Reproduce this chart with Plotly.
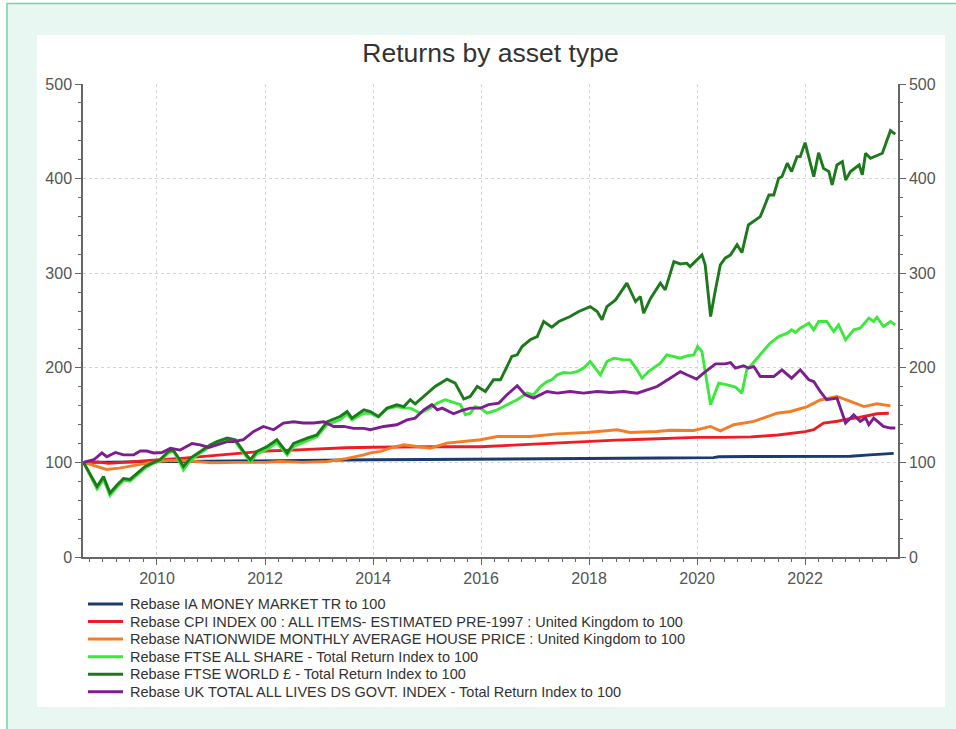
import plotly.graph_objects as go

# ---------------- data (decimal years, rebased to 100) ----------------
mm_x = [2008.64, 2009.5, 2010.0, 2011.0, 2012.0, 2013.0, 2014.0, 2015.0, 2015.9, 2016.0,
        2017.0, 2018.0, 2018.95, 2019.32, 2020.3, 2020.4, 2021.0, 2022.0, 2022.84, 2023.2, 2023.64]
mm_y = [100, 100.5, 101, 101.5, 102, 102.5, 102.8, 103, 103.2, 104,
        104.2, 104.4, 104.6, 104.6, 105, 106, 106.2, 106.3, 106.5, 108, 109.5]

cpi_x = [2008.64, 2008.9, 2009.1, 2009.4, 2009.7, 2010.0, 2010.5, 2011.0, 2011.5, 2012.0,
         2012.5, 2013.0, 2013.5, 2014.0, 2014.5, 2015.0, 2015.5, 2016.0, 2016.5, 2017.0,
         2017.5, 2018.0, 2018.5, 2019.0, 2019.5, 2020.0, 2020.5, 2021.0, 2021.5, 2022.0,
         2022.16, 2022.34, 2022.6, 2022.78, 2023.0, 2023.33, 2023.55]
cpi_y = [100, 100.5, 99, 100, 101, 102.5, 104.5, 107, 110, 112,
         113, 114.5, 115.5, 116, 116.5, 116.5, 116.5, 116.5, 118, 119.5,
         121, 122.5, 123.5, 124.5, 125.7, 126.5, 126.5, 127, 129, 132.5,
         134.5, 141.6, 143.5, 145.8, 147.5, 151.4, 152]

house_x = [2008.64, 2008.85, 2009.07, 2009.3, 2009.6, 2009.9, 2010.2, 2010.5, 2010.8, 2011.0,
           2011.5, 2012.0, 2012.28, 2012.7, 2013.15, 2013.5, 2013.83, 2013.95, 2014.14, 2014.32,
           2014.57, 2015.06, 2015.37, 2015.99, 2016.3, 2016.91, 2017.41, 2017.96, 2018.52, 2018.76,
           2019.26, 2019.5, 2019.94, 2020.25, 2020.43, 2020.68, 2021.05, 2021.48, 2021.73, 2022.04,
           2022.28, 2022.59, 2022.84, 2023.09, 2023.33, 2023.58]
house_y = [100, 96, 92.5, 94, 97, 100, 102, 102, 100.5, 99.6,
           100, 100, 101, 100, 101, 104, 108, 110, 111.6, 115,
           118.6, 115, 120.4, 124, 127.4, 127.4, 130.2, 131.6, 134.5, 131.6,
           132.7, 134, 133.7, 138, 133.4, 139.8, 143.3, 152, 153.8, 159,
           166, 169.7, 164.4, 159, 162, 159.8]

allshare_x = [2008.64, 2008.89, 2009.01, 2009.13, 2009.26, 2009.38, 2009.5, 2009.66, 2009.78, 2009.9,
              2010.06, 2010.21, 2010.3, 2010.4, 2010.49, 2010.62, 2010.8, 2010.99, 2011.11, 2011.3,
              2011.45, 2011.6, 2011.73, 2011.85, 2012.04, 2012.22, 2012.41, 2012.53, 2012.78, 2012.96,
              2013.15, 2013.39, 2013.52, 2013.61, 2013.83, 2013.95, 2014.1, 2014.26, 2014.44, 2014.57,
              2014.69, 2014.88, 2015.06, 2015.19, 2015.34, 2015.52, 2015.62, 2015.71, 2015.8, 2015.89,
              2015.99, 2016.11, 2016.3, 2016.48, 2016.67, 2016.85, 2016.97, 2017.1, 2017.22, 2017.31,
              2017.41, 2017.53, 2017.65, 2017.78, 2017.9, 2018.02, 2018.11, 2018.21, 2018.33, 2018.46,
              2018.64, 2018.76, 2018.89, 2018.98, 2019.1, 2019.26, 2019.32, 2019.44, 2019.57, 2019.69,
              2019.81, 2019.94, 2020.01, 2020.09, 2020.25, 2020.4, 2020.56, 2020.71, 2020.83, 2020.92,
              2021.01, 2021.17, 2021.35, 2021.51, 2021.67, 2021.75, 2021.82, 2021.91, 2022.07, 2022.16,
              2022.25, 2022.4, 2022.53, 2022.62, 2022.75, 2022.9, 2023.02, 2023.18, 2023.27, 2023.33,
              2023.45, 2023.58, 2023.67]
allshare_y = [100, 72, 82, 65, 74, 81, 80, 88, 94, 98,
              102, 110, 112, 103, 92, 102, 110, 117, 121, 124,
              122, 110, 101, 109, 114, 121, 108, 117, 123, 127,
              140, 145, 151, 145, 152, 152, 148, 157, 159, 157.4,
              157.4, 152, 157.4, 162.7, 166.2, 162.7, 161, 150.3, 152, 159,
              157.4, 152, 155.6, 161, 166.2, 173.2, 171.5, 180.2, 185.5, 187.3,
              192.6, 195, 194.4, 196, 199.7, 206.6, 199.7, 192.6, 206.6, 210.2,
              208.4, 208.4, 197.9, 189, 196, 203.2, 205, 213.7, 212, 210.2,
              212.6, 213.7, 222.5, 217.2, 160.9, 183.8, 182, 179.6, 173.2, 197.9,
              203.2, 213.7, 226, 233, 236.6, 240.1, 237.3, 241.9, 247.2, 240.1,
              248.9, 248.9, 238.3, 245.4, 229.6, 240.1, 241.9, 252.5, 248.9, 253.5,
              243.6, 248.9, 245.4]

world_x = [2008.64, 2008.89, 2009.01, 2009.13, 2009.26, 2009.38, 2009.5, 2009.66, 2009.78, 2009.9,
           2010.06, 2010.21, 2010.3, 2010.4, 2010.49, 2010.62, 2010.8, 2010.99, 2011.11, 2011.3,
           2011.45, 2011.6, 2011.73, 2011.85, 2012.04, 2012.22, 2012.41, 2012.53, 2012.78, 2012.96,
           2013.15, 2013.39, 2013.52, 2013.61, 2013.83, 2013.95, 2014.1, 2014.26, 2014.44, 2014.57,
           2014.69, 2014.78, 2014.94, 2015.15, 2015.37, 2015.52, 2015.68, 2015.8, 2015.93, 2016.08,
           2016.23, 2016.36, 2016.48, 2016.57, 2016.67, 2016.76, 2016.91, 2017.04, 2017.16, 2017.31,
           2017.44, 2017.65, 2017.81, 2018.02, 2018.15, 2018.24, 2018.33, 2018.49, 2018.7, 2018.86,
           2018.95, 2019.01, 2019.14, 2019.32, 2019.41, 2019.57, 2019.69, 2019.81, 2019.87, 2020.09,
           2020.15, 2020.25, 2020.34, 2020.43, 2020.52, 2020.62, 2020.74, 2020.83, 2020.95, 2021.08,
           2021.17, 2021.33, 2021.42, 2021.51, 2021.57, 2021.67, 2021.75, 2021.85, 2021.91, 2022.0,
           2022.16, 2022.25, 2022.34, 2022.44, 2022.5, 2022.59, 2022.69, 2022.75, 2022.84, 2023.0,
           2023.06, 2023.12, 2023.21, 2023.43, 2023.58, 2023.67]
world_y = [100, 74.6, 85, 67.6, 76, 83, 82, 90, 95.7, 99,
           103, 111.6, 113, 104.6, 95.7, 104.6, 111.6, 118.6, 122, 125.7,
           124, 111.6, 102.8, 111.6, 116.8, 124, 110, 120, 125.7, 129,
           143, 148.5, 153.8, 146.8, 155.6, 153.8, 148.5, 157.4, 160.9, 159,
           166.2, 162, 169.7, 180.2, 188, 183.8, 167, 169.7, 180.2, 175,
           187.3, 187.3, 201.3, 212, 213.7, 222.5, 229.6, 233, 248.9, 243,
           248.9, 254.2, 259.5, 264.7, 259.5, 250.7, 264.7, 271.8, 289.5, 270,
           275.3, 257.8, 273.6, 289.5, 282.4, 312.3, 309.8, 310.6, 307, 319.4,
           308.8, 254.2, 282.4, 308.8, 315.9, 319.4, 330, 321.8, 351, 356.3,
           359.8, 382.7, 382.7, 400.4, 402, 416.2, 407.4, 423.2, 423.2, 438,
           402, 427.4, 411, 407.4, 393.3, 414.4, 418, 398.6, 407.4, 414.4,
           404, 426.8, 421.5, 426.8, 450.7, 447]

gilts_x = [2008.64, 2008.83, 2008.98, 2009.07, 2009.23, 2009.38, 2009.57, 2009.69, 2009.81, 2009.94,
           2010.09, 2010.25, 2010.43, 2010.65, 2010.8, 2010.96, 2011.11, 2011.3, 2011.42, 2011.6,
           2011.79, 2011.97, 2012.16, 2012.34, 2012.53, 2012.71, 2012.9, 2013.09, 2013.27, 2013.46,
           2013.64, 2013.83, 2013.95, 2014.2, 2014.44, 2014.63, 2014.78, 2014.94, 2015.09, 2015.19,
           2015.28, 2015.49, 2015.65, 2015.8, 2015.99, 2016.14, 2016.33, 2016.48, 2016.67, 2016.82,
           2016.97, 2017.1, 2017.22, 2017.41, 2017.65, 2017.9, 2018.15, 2018.39, 2018.64, 2018.89,
           2019.07, 2019.26, 2019.5, 2019.69, 2019.81, 2019.99, 2020.12, 2020.34, 2020.52, 2020.62,
           2020.71, 2020.86, 2020.95, 2021.05, 2021.17, 2021.42, 2021.57, 2021.75, 2021.91, 2022.07,
           2022.16, 2022.28, 2022.4, 2022.59, 2022.75, 2022.9, 2023.02, 2023.12, 2023.18, 2023.27,
           2023.45, 2023.58, 2023.67]
gilts_y = [100, 102.8, 110, 106, 110.5, 108, 108, 112, 112, 110,
           110.5, 115, 113, 120, 118.6, 115.8, 118.6, 122, 122, 124,
           132.7, 138, 134.5, 141.6, 143, 141.6, 141.6, 143, 138, 138,
           136, 136, 134.5, 138, 139.8, 145, 146.8, 155.6, 161, 155.6,
           157.4, 151.4, 154.9, 157.4, 157.4, 161, 162.7, 171.5, 181, 171.5,
           168, 171.5, 175, 173.2, 175, 173.2, 175, 173.9, 175, 173.2,
           176.7, 180.2, 189, 196, 192.6, 188, 194.4, 204.2, 204.2, 205.6,
           199.7, 202.1, 199.7, 201.3, 190.8, 190.8, 197.9, 189, 197.9, 187.3,
           185.5, 175, 166.2, 168, 141.6, 150.3, 143.3, 146.8, 139.8, 146.8,
           138, 136.3, 136.3]

series_names = [
    "Rebase IA MONEY MARKET TR to 100",
    "Rebase CPI INDEX 00 : ALL ITEMS- ESTIMATED PRE-1997 : United Kingdom to 100",
    "Rebase NATIONWIDE MONTHLY AVERAGE HOUSE PRICE : United Kingdom to 100",
    "Rebase FTSE ALL SHARE - Total Return Index to 100",
    "Rebase FTSE WORLD \u00a3 - Total Return Index to 100",
    "Rebase UK TOTAL ALL LIVES DS GOVT. INDEX - Total Return Index to 100",
]
series_colors = ["#1b3a6e", "#ee1c24", "#f47c25", "#3be83b", "#1c7a1c", "#7d1e8e"]
title_text = "Returns by asset type"
x_ticks = [2010, 2012, 2014, 2016, 2018, 2020, 2022]
y_ticks = [0, 100, 200, 300, 400, 500]

# ---------------- figure ----------------
W, H = 956, 729
L, R, T, B = 83, 58, 84, 172
PW, PH = W - L - R, H - T - B


def px_x(p):
    return (p - L) / PW


def px_y(p):
    return (H - B - p) / PH


fig = go.Figure()
xs = [mm_x, cpi_x, house_x, allshare_x, world_x, gilts_x]
ys = [mm_y, cpi_y, house_y, allshare_y, world_y, gilts_y]
for name, col, x, y in zip(series_names, series_colors, xs, ys):
    fig.add_trace(go.Scatter(x=x, y=y, mode="lines", name=name, showlegend=False,
                             line=dict(color=col, width=2.9), hoverinfo="skip"))

# invisible trace to carry the right-hand axis
fig.add_trace(go.Scatter(x=mm_x, y=mm_y, yaxis="y2", mode="lines", showlegend=False,
                         line=dict(width=0, color="rgba(0,0,0,0)"), hoverinfo="skip"))

font_family = "Liberation Sans, Arial, sans-serif"
axis_col = "#666666"
grid_col = "#d4d4d4"

common_y = dict(range=[0, 500], tickvals=y_ticks, ticks="outside", ticklen=6, tickcolor=axis_col,
                showline=True, linecolor=axis_col, linewidth=1.5,
                tickfont=dict(size=16, color="#555555", family=font_family),
                minor=dict(dtick=20, ticks="outside", ticklen=3, tickcolor=axis_col, showgrid=False),
                zeroline=False, fixedrange=True)

shapes = [
    # mint frame with green border
    dict(type="rect", xref="paper", yref="paper", layer="below",
         x0=px_x(7), x1=px_x(980), y0=px_y(760), y1=px_y(3.5),
         fillcolor="#e8f7f2", line=dict(color="#6fd6a8", width=1.5)),
    # white chart card
    dict(type="rect", xref="paper", yref="paper", layer="below",
         x0=px_x(37), x1=px_x(945), y0=px_y(707), y1=px_y(35),
         fillcolor="#ffffff", line=dict(width=0)),
]
annotations = []

# legend drawn below the plot: one row per series
leg_top, leg_step = 604, 17.55
for i, (name, col) in enumerate(zip(series_names, series_colors)):
    yy = px_y(leg_top + i * leg_step)
    shapes.append(dict(type="line", xref="paper", yref="paper",
                       x0=px_x(88), x1=px_x(123), y0=yy, y1=yy,
                       line=dict(color=col, width=3)))
    annotations.append(dict(text=name, xref="paper", yref="paper", x=px_x(128), y=yy,
                            xanchor="left", yanchor="middle", showarrow=False,
                            font=dict(size=14.5, color="#333333", family=font_family)))

fig.update_layout(
    width=W, height=H,
    margin=dict(l=L, r=R, t=T, b=B, pad=0),
    paper_bgcolor="#ffffff",
    plot_bgcolor="#ffffff",
    font=dict(family=font_family, color="#333333"),
    title=dict(text=title_text, x=0.5, xref="paper", xanchor="center",
               y=1 - 53 / H, yref="container", yanchor="middle",
               font=dict(size=26.5, color="#333333", family=font_family)),
    xaxis=dict(range=[2008.63, 2023.72], tickvals=x_ticks, ticks="outside", ticklen=6,
               tickcolor=axis_col, showline=True, linecolor=axis_col, linewidth=1.5,
               showgrid=True, gridcolor=grid_col, griddash="dot", gridwidth=1,
               tickfont=dict(size=16, color="#555555", family=font_family),
               minor=dict(dtick=0.25, tick0=2010, ticks="outside", ticklen=3,
                          tickcolor=axis_col, showgrid=False),
               zeroline=False, fixedrange=True),
    yaxis=dict(side="left", showgrid=True, gridcolor=grid_col, griddash="dot", gridwidth=1,
               **common_y),
    yaxis2=dict(side="right", overlaying="y", showgrid=False, **common_y),
    showlegend=False,
    shapes=shapes,
    annotations=annotations,
)

fig.write_html("out.html", config={"displayModeBar": False},
               post_script="document.body.style.margin='0';document.body.style.padding='0';")
